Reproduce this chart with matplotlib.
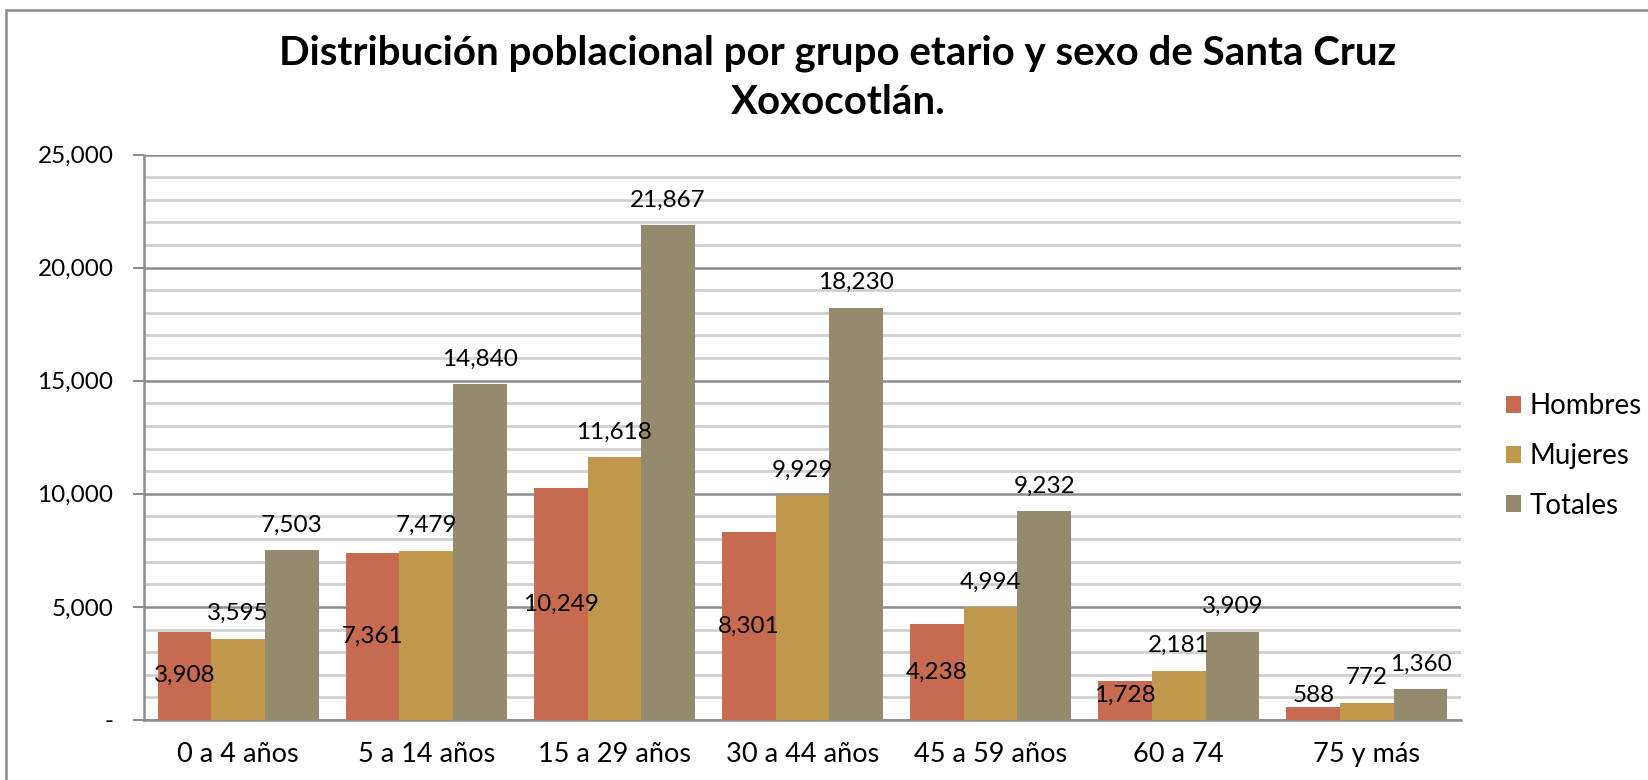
import numpy as np
import matplotlib.pyplot as plt
from matplotlib.patches import Rectangle
from matplotlib.ticker import MultipleLocator, FuncFormatter

plt.rcParams['font.family'] = ['Lato', 'DejaVu Sans']

# datos
grupos = ['0 a 4 años', '5 a 14 años', '15 a 29 años', '30 a 44 años',
          '45 a 59 años', '60 a 74', '75 y más']
hombres = [3908, 7361, 10249, 8301, 4238, 1728, 588]
mujeres = [3595, 7479, 11618, 9929, 4994, 2181, 772]
totales = [7503, 14840, 21867, 18230, 9232, 3909, 1360]

series = ['Hombres', 'Mujeres', 'Totales']
colores = ['#C66A50', '#C0994C', '#948A6E']

fig = plt.figure(figsize=(16.48, 7.8), dpi=100)
# marco del grafico
fig.patches.append(Rectangle((6 / 1648, -0.1), 1.2, (1 - 10 / 780) + 0.1,
                             transform=fig.transFigure, fill=False,
                             edgecolor='#8c8c8c', lw=1.8))

ax = fig.add_axes([144 / 1648, 60 / 780, (1461 - 144) / 1648, (720 - 154.5) / 780])

x = np.arange(len(grupos))
w = 0.285
datos = [hombres, mujeres, totales]
for i, (nombre, vals, col) in enumerate(zip(series, datos, colores)):
    pos = x + (i - 1) * w
    ax.bar(pos, vals, width=w, color=col, label=nombre, zorder=3)
    for px, v in zip(pos, vals):
        txt = f'{v:,}'
        if i == 0:
            ax.text(px, max(v / 2, 1100), txt, ha='center', va='center',
                    fontsize=17.5, zorder=4)
        else:
            ax.annotate(txt, (px, v), xytext=(0, 18), textcoords='offset points',
                        ha='center', va='center', fontsize=17.5, zorder=4)

ax.set_ylim(0, 25000)
ax.set_xlim(-0.5, len(grupos) - 0.5)
ax.yaxis.set_major_locator(MultipleLocator(5000))
ax.yaxis.set_minor_locator(MultipleLocator(1000))
ax.yaxis.set_major_formatter(FuncFormatter(lambda v, p: '-' if v == 0 else f'{int(v):,}'))
ax.grid(axis='y', which='minor', color='#d0d0d0', lw=2, zorder=0)
ax.grid(axis='y', which='major', color='#8c8c8c', lw=1.8, zorder=1)
ax.tick_params(axis='y', which='major', length=8, width=1.5, color='#8c8c8c',
               labelsize=17.5, pad=14)
ax.tick_params(axis='y', which='minor', length=0)
ax.set_xticks(x)
ax.set_xticklabels(grupos)
ax.tick_params(axis='x', length=0, labelsize=19.5, pad=16)

for s in ['top', 'right']:
    ax.spines[s].set_visible(False)
for s in ['left', 'bottom']:
    ax.spines[s].set_color('#8c8c8c')
    ax.spines[s].set_linewidth(1.8)

fig.suptitle('Distribución poblacional por grupo etario y sexo de Santa Cruz\nXoxocotlán.',
             x=838 / 1648, y=1 - 34 / 780, va='top', fontsize=29, fontweight='bold',
             linespacing=1.4)

ax.legend(loc='center left', bbox_to_anchor=(1492 / 1648, 1 - 456 / 780),
          bbox_transform=fig.transFigure, frameon=False, fontsize=20,
          handlelength=0.55, handleheight=0.55, handletextpad=0.3,
          labelspacing=0.85, borderpad=0)

fig.savefig('out.png', dpi=100)
